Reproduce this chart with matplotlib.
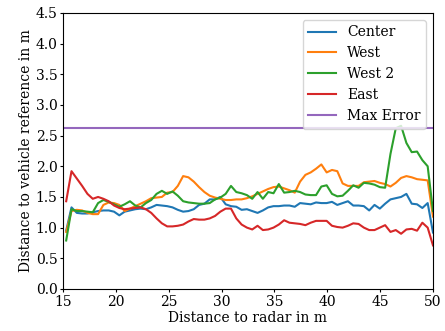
import numpy as np
import matplotlib
matplotlib.use("Agg")
import matplotlib.pyplot as plt

plt.rcParams['font.family'] = 'DejaVu Serif'

# distance to radar (m), 70 samples
distance = np.linspace(15.3, 50.0, 70)

center = [0.95, 1.33, 1.24, 1.23, 1.23, 1.25, 1.27, 1.28, 1.28, 1.26,
          1.20, 1.26, 1.28, 1.30, 1.31, 1.30, 1.33, 1.37, 1.36, 1.35,
          1.33, 1.29, 1.26, 1.27, 1.30, 1.37, 1.39, 1.46, 1.46, 1.50,
          1.38, 1.35, 1.34, 1.29, 1.30, 1.27, 1.24, 1.28, 1.33, 1.35,
          1.35, 1.36, 1.36, 1.34, 1.40, 1.39, 1.38, 1.41, 1.40, 1.40,
          1.42, 1.37, 1.40, 1.43, 1.36, 1.36, 1.35, 1.28, 1.37, 1.31,
          1.39, 1.46, 1.48, 1.50, 1.55, 1.39, 1.38, 1.32, 1.40, 0.92]

west = [0.93, 1.27, 1.29, 1.28, 1.24, 1.22, 1.22, 1.37, 1.41, 1.40,
        1.37, 1.27, 1.31, 1.35, 1.39, 1.43, 1.48, 1.49, 1.50, 1.57,
        1.58, 1.68, 1.84, 1.82, 1.75, 1.66, 1.58, 1.52, 1.49, 1.47,
        1.45, 1.45, 1.46, 1.46, 1.48, 1.51, 1.55, 1.59, 1.63, 1.66,
        1.67, 1.64, 1.61, 1.57, 1.75, 1.86, 1.90, 1.96, 2.03, 1.90,
        1.94, 1.92, 1.72, 1.68, 1.68, 1.68, 1.74, 1.75, 1.76, 1.73,
        1.71, 1.67, 1.73, 1.81, 1.84, 1.82, 1.79, 1.78, 1.77, 1.18]

west2 = [0.79, 1.30, 1.27, 1.27, 1.26, 1.25, 1.40, 1.45, 1.42, 1.38,
         1.34, 1.38, 1.43, 1.36, 1.33, 1.40, 1.45, 1.55, 1.60, 1.55,
         1.59, 1.52, 1.43, 1.41, 1.40, 1.39, 1.39, 1.40, 1.46, 1.49,
         1.55, 1.68, 1.58, 1.56, 1.53, 1.47, 1.58, 1.47, 1.58, 1.56,
         1.71, 1.57, 1.58, 1.60, 1.58, 1.54, 1.53, 1.53, 1.67, 1.69,
         1.55, 1.51, 1.52, 1.60, 1.69, 1.65, 1.73, 1.72, 1.70, 1.66,
         1.65, 2.20, 2.62, 2.66, 2.38, 2.23, 2.24, 2.10, 2.00, 1.27]

east = [1.43, 1.92, 1.80, 1.68, 1.55, 1.47, 1.50, 1.47, 1.43, 1.36,
        1.32, 1.30, 1.31, 1.32, 1.33, 1.30, 1.24, 1.15, 1.07, 1.02,
        1.02, 1.03, 1.05, 1.10, 1.14, 1.13, 1.13, 1.15, 1.19, 1.26,
        1.31, 1.31, 1.15, 1.05, 1.00, 0.97, 1.03, 0.96, 0.97, 1.00,
        1.05, 1.12, 1.08, 1.07, 1.06, 1.04, 1.08, 1.11, 1.11, 1.11,
        1.03, 1.01, 1.00, 1.03, 1.07, 1.06, 1.00, 0.96, 0.96, 1.00,
        1.04, 0.93, 0.96, 0.90, 0.97, 0.98, 0.95, 1.08, 1.00, 0.71]

max_error = 2.62

fig, ax = plt.subplots(figsize=(4.45, 3.31), dpi=100)
fig.subplots_adjust(left=0.1416, right=0.973, top=0.961, bottom=0.127)

ax.plot(distance, center, color='tab:blue', label="Center")
ax.plot(distance, west, color='tab:orange', label="West")
ax.plot(distance, west2, color='tab:green', label="West 2")
ax.plot(distance, east, color='tab:red', label="East")
ax.axhline(max_error, color='tab:purple', label="Max Error")

ax.set_xlim(15, 50)
ax.set_ylim(0, 4.5)
ax.set_yticks(np.arange(0, 4.51, 0.5))
ax.tick_params(length=2.5, pad=1.5)
ax.set_xlabel("Distance to radar in m", labelpad=2)
ax.set_ylabel("Distance to vehicle reference in m", labelpad=2)
ax.legend(loc='upper right')

plt.savefig("out.png")
